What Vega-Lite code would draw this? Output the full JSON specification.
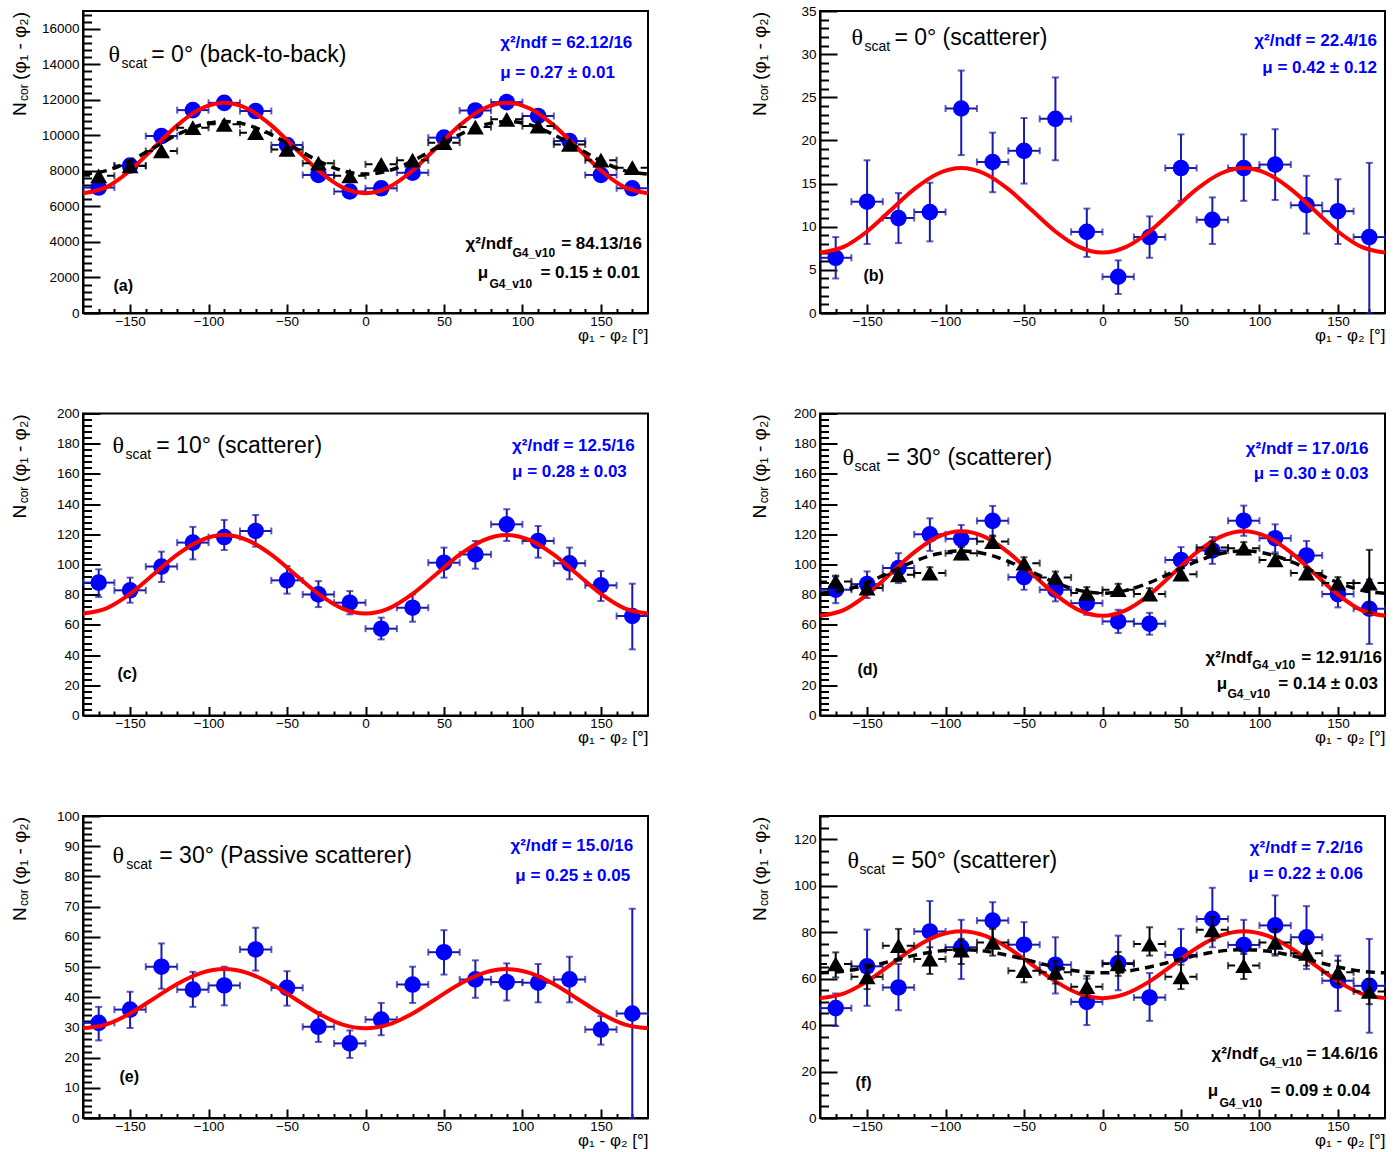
{
"$schema": "https://vega.github.io/schema/vega-lite/v6.json",
"padding": {"left": 9, "top": 3, "right": 5, "bottom": 0},
"columns": 2,
"spacing": {"row": 100.5, "column": 172},
"bounds": "flush",
"config": {
  "view": {"stroke": "#000", "strokeWidth": 2},
  "axis": {"grid": false, "domainColor": "#000", "domainWidth": 2, "tickColor": "#000", "tickWidth": 2, "labelFont": "Liberation Sans", "labelFontSize": 13.5, "labelColor": "#000", "titleFont": "Liberation Sans", "titleFontWeight": "normal", "titleColor": "#000", "labelFlush": false, "labelOverlap": false, "labelBound": false, "tickCount": 200},
  "text": {"font": "Liberation Sans", "color": "#000"}
},
"datasets": {
  "a_b": [{"x":-170,"y":7060,"lo":6950,"hi":7170,"xlo":-180,"xhi":-160},{"x":-150,"y":8300,"lo":8190,"hi":8410,"xlo":-160,"xhi":-140},{"x":-130,"y":9960,"lo":9850,"hi":10070,"xlo":-140,"xhi":-120},{"x":-110,"y":11420,"lo":11310,"hi":11530,"xlo":-120,"xhi":-100},{"x":-90,"y":11830,"lo":11720,"hi":11940,"xlo":-100,"xhi":-80},{"x":-70,"y":11370,"lo":11260,"hi":11480,"xlo":-80,"xhi":-60},{"x":-50,"y":9460,"lo":9350,"hi":9570,"xlo":-60,"xhi":-40},{"x":-30,"y":7770,"lo":7660,"hi":7880,"xlo":-40,"xhi":-20},{"x":-10,"y":6840,"lo":6730,"hi":6950,"xlo":-20,"xhi":0},{"x":10,"y":7020,"lo":6910,"hi":7130,"xlo":0,"xhi":20},{"x":30,"y":7900,"lo":7790,"hi":8010,"xlo":20,"xhi":40},{"x":50,"y":9870,"lo":9760,"hi":9980,"xlo":40,"xhi":60},{"x":70,"y":11400,"lo":11290,"hi":11510,"xlo":60,"xhi":80},{"x":90,"y":11870,"lo":11760,"hi":11980,"xlo":80,"xhi":100},{"x":110,"y":11090,"lo":10980,"hi":11200,"xlo":100,"xhi":120},{"x":130,"y":9680,"lo":9570,"hi":9790,"xlo":120,"xhi":140},{"x":150,"y":7770,"lo":7660,"hi":7880,"xlo":140,"xhi":160},{"x":170,"y":7020,"lo":6910,"hi":7130,"xlo":160,"xhi":180}],
  "a_k": [{"x":-170,"y":7720,"lo":7420,"hi":8020,"xlo":-180,"xhi":-160},{"x":-150,"y":8280,"lo":7980,"hi":8580,"xlo":-160,"xhi":-140},{"x":-130,"y":9120,"lo":8820,"hi":9420,"xlo":-140,"xhi":-120},{"x":-110,"y":10430,"lo":10130,"hi":10730,"xlo":-120,"xhi":-100},{"x":-90,"y":10620,"lo":10320,"hi":10920,"xlo":-100,"xhi":-80},{"x":-70,"y":10150,"lo":9850,"hi":10450,"xlo":-80,"xhi":-60},{"x":-50,"y":9210,"lo":8910,"hi":9510,"xlo":-60,"xhi":-40},{"x":-30,"y":8430,"lo":8130,"hi":8730,"xlo":-40,"xhi":-20},{"x":-10,"y":7720,"lo":7420,"hi":8020,"xlo":-20,"xhi":0},{"x":10,"y":8370,"lo":8070,"hi":8670,"xlo":0,"xhi":20},{"x":30,"y":8600,"lo":8300,"hi":8900,"xlo":20,"xhi":40},{"x":50,"y":9590,"lo":9290,"hi":9890,"xlo":40,"xhi":60},{"x":70,"y":10470,"lo":10170,"hi":10770,"xlo":60,"xhi":80},{"x":90,"y":10900,"lo":10600,"hi":11200,"xlo":80,"xhi":100},{"x":110,"y":10520,"lo":10220,"hi":10820,"xlo":100,"xhi":120},{"x":130,"y":9490,"lo":9190,"hi":9790,"xlo":120,"xhi":140},{"x":150,"y":8600,"lo":8300,"hi":8900,"xlo":140,"xhi":160},{"x":170,"y":8180,"lo":7880,"hi":8480,"xlo":160,"xhi":180}],
  "b_b": [{"x":-170,"y":6.4,"lo":4.0,"hi":8.8,"xlo":-180,"xhi":-160},{"x":-150,"y":12.9,"lo":8.0,"hi":17.7,"xlo":-160,"xhi":-140},{"x":-130,"y":11.0,"lo":8.1,"hi":13.9,"xlo":-140,"xhi":-120},{"x":-110,"y":11.7,"lo":8.3,"hi":15.1,"xlo":-120,"xhi":-100},{"x":-90,"y":23.7,"lo":18.3,"hi":28.1,"xlo":-100,"xhi":-80},{"x":-70,"y":17.5,"lo":14.0,"hi":20.9,"xlo":-80,"xhi":-60},{"x":-50,"y":18.8,"lo":15.0,"hi":22.6,"xlo":-60,"xhi":-40},{"x":-30,"y":22.5,"lo":17.7,"hi":27.3,"xlo":-40,"xhi":-20},{"x":-10,"y":9.4,"lo":6.5,"hi":12.1,"xlo":-20,"xhi":0},{"x":10,"y":4.2,"lo":2.2,"hi":6.1,"xlo":0,"xhi":20},{"x":30,"y":8.8,"lo":6.4,"hi":11.2,"xlo":20,"xhi":40},{"x":50,"y":16.8,"lo":13.0,"hi":20.7,"xlo":40,"xhi":60},{"x":70,"y":10.8,"lo":8.0,"hi":13.4,"xlo":60,"xhi":80},{"x":90,"y":16.8,"lo":13.0,"hi":20.7,"xlo":80,"xhi":100},{"x":110,"y":17.2,"lo":13.1,"hi":21.3,"xlo":100,"xhi":120},{"x":130,"y":12.5,"lo":9.2,"hi":15.9,"xlo":120,"xhi":140},{"x":150,"y":11.8,"lo":8.0,"hi":15.5,"xlo":140,"xhi":160},{"x":170,"y":8.8,"lo":0,"hi":17.4,"xlo":160,"xhi":180}],
  "c_b": [{"x":-170,"y":88.0,"lo":78.5,"hi":96.8,"xlo":-180,"xhi":-160},{"x":-150,"y":82.9,"lo":74.7,"hi":91.3,"xlo":-160,"xhi":-140},{"x":-130,"y":98.6,"lo":88.4,"hi":108.5,"xlo":-140,"xhi":-120},{"x":-110,"y":114.5,"lo":103.4,"hi":124.9,"xlo":-120,"xhi":-100},{"x":-90,"y":118.2,"lo":109.6,"hi":129.5,"xlo":-100,"xhi":-80},{"x":-70,"y":122.2,"lo":111.8,"hi":132.8,"xlo":-80,"xhi":-60},{"x":-50,"y":89.5,"lo":80.7,"hi":99.0,"xlo":-60,"xhi":-40},{"x":-30,"y":80.2,"lo":71.8,"hi":89.0,"xlo":-40,"xhi":-20},{"x":-10,"y":74.7,"lo":67.0,"hi":82.4,"xlo":-20,"xhi":0},{"x":10,"y":57.5,"lo":50.4,"hi":64.8,"xlo":0,"xhi":20},{"x":30,"y":71.4,"lo":62.1,"hi":80.2,"xlo":20,"xhi":40},{"x":50,"y":101.2,"lo":91.3,"hi":111.2,"xlo":40,"xhi":60},{"x":70,"y":106.7,"lo":97.2,"hi":115.6,"xlo":60,"xhi":80},{"x":90,"y":126.6,"lo":115.6,"hi":136.6,"xlo":80,"xhi":100},{"x":110,"y":115.6,"lo":104.5,"hi":125.5,"xlo":100,"xhi":120},{"x":130,"y":100.8,"lo":90.2,"hi":111.2,"xlo":120,"xhi":140},{"x":150,"y":86.2,"lo":75.8,"hi":95.7,"xlo":140,"xhi":160},{"x":170,"y":65.9,"lo":43.8,"hi":87.3,"xlo":160,"xhi":180}],
  "d_b": [{"x":-170,"y":83.3,"lo":74.4,"hi":92.0,"xlo":-180,"xhi":-160},{"x":-150,"y":87.0,"lo":77.8,"hi":95.4,"xlo":-160,"xhi":-140},{"x":-130,"y":97.6,"lo":87.7,"hi":107.5,"xlo":-140,"xhi":-120},{"x":-110,"y":120.0,"lo":109.0,"hi":130.6,"xlo":-120,"xhi":-100},{"x":-90,"y":117.0,"lo":107.5,"hi":126.2,"xlo":-100,"xhi":-80},{"x":-70,"y":128.9,"lo":118.5,"hi":138.8,"xlo":-80,"xhi":-60},{"x":-50,"y":91.6,"lo":83.3,"hi":99.8,"xlo":-60,"xhi":-40},{"x":-30,"y":83.3,"lo":75.6,"hi":91.0,"xlo":-40,"xhi":-20},{"x":-10,"y":74.4,"lo":66.7,"hi":82.2,"xlo":-20,"xhi":0},{"x":10,"y":62.3,"lo":54.6,"hi":70.0,"xlo":0,"xhi":20},{"x":30,"y":60.8,"lo":53.5,"hi":68.0,"xlo":20,"xhi":40},{"x":50,"y":103.0,"lo":94.7,"hi":111.5,"xlo":40,"xhi":60},{"x":70,"y":109.3,"lo":100.4,"hi":118.2,"xlo":60,"xhi":80},{"x":90,"y":129.0,"lo":119.0,"hi":139.0,"xlo":80,"xhi":100},{"x":110,"y":117.4,"lo":108.0,"hi":126.6,"xlo":100,"xhi":120},{"x":130,"y":106.0,"lo":95.4,"hi":115.6,"xlo":120,"xhi":140},{"x":150,"y":80.4,"lo":71.6,"hi":88.8,"xlo":140,"xhi":160},{"x":170,"y":70.7,"lo":47.4,"hi":90.0,"xlo":160,"xhi":180}],
  "d_k": [{"x":-170,"y":88.8,"lo":85.0,"hi":92.6,"xlo":-180,"xhi":-160},{"x":-150,"y":84.4,"lo":80.6,"hi":88.2,"xlo":-160,"xhi":-140},{"x":-130,"y":93.2,"lo":89.3,"hi":97.1,"xlo":-140,"xhi":-120},{"x":-110,"y":94.3,"lo":90.4,"hi":98.2,"xlo":-120,"xhi":-100},{"x":-90,"y":107.5,"lo":103.5,"hi":111.5,"xlo":-100,"xhi":-80},{"x":-70,"y":115.2,"lo":111.2,"hi":119.2,"xlo":-80,"xhi":-60},{"x":-50,"y":100.9,"lo":97.0,"hi":104.8,"xlo":-60,"xhi":-40},{"x":-30,"y":91.4,"lo":87.5,"hi":95.3,"xlo":-40,"xhi":-20},{"x":-10,"y":81.1,"lo":77.2,"hi":85.0,"xlo":-20,"xhi":0},{"x":10,"y":83.3,"lo":79.4,"hi":87.2,"xlo":0,"xhi":20},{"x":30,"y":80.4,"lo":76.5,"hi":84.3,"xlo":20,"xhi":40},{"x":50,"y":93.6,"lo":89.7,"hi":97.5,"xlo":40,"xhi":60},{"x":70,"y":111.2,"lo":107.2,"hi":115.2,"xlo":60,"xhi":80},{"x":90,"y":110.8,"lo":106.8,"hi":114.8,"xlo":80,"xhi":100},{"x":110,"y":103.0,"lo":99.1,"hi":106.9,"xlo":100,"xhi":120},{"x":130,"y":94.3,"lo":90.4,"hi":98.2,"xlo":120,"xhi":140},{"x":150,"y":87.7,"lo":83.8,"hi":91.6,"xlo":140,"xhi":160},{"x":170,"y":87.7,"lo":67.8,"hi":109.7,"xlo":160,"xhi":180}],
  "e_b": [{"x":-170,"y":31.5,"lo":25.7,"hi":36.8,"xlo":-180,"xhi":-160},{"x":-150,"y":35.9,"lo":29.8,"hi":41.8,"xlo":-160,"xhi":-140},{"x":-130,"y":50.1,"lo":42.8,"hi":57.8,"xlo":-140,"xhi":-120},{"x":-110,"y":42.5,"lo":36.8,"hi":48.4,"xlo":-120,"xhi":-100},{"x":-90,"y":43.9,"lo":37.3,"hi":50.1,"xlo":-100,"xhi":-80},{"x":-70,"y":55.8,"lo":48.8,"hi":63.0,"xlo":-80,"xhi":-60},{"x":-50,"y":43.1,"lo":37.2,"hi":48.6,"xlo":-60,"xhi":-40},{"x":-30,"y":30.2,"lo":25.2,"hi":35.1,"xlo":-40,"xhi":-20},{"x":-10,"y":24.7,"lo":19.9,"hi":29.0,"xlo":-20,"xhi":0},{"x":10,"y":32.6,"lo":27.4,"hi":38.1,"xlo":0,"xhi":20},{"x":30,"y":44.2,"lo":38.1,"hi":50.1,"xlo":20,"xhi":40},{"x":50,"y":54.9,"lo":47.5,"hi":62.2,"xlo":40,"xhi":60},{"x":70,"y":45.9,"lo":39.8,"hi":52.2,"xlo":60,"xhi":80},{"x":90,"y":45.0,"lo":38.9,"hi":51.2,"xlo":80,"xhi":100},{"x":110,"y":44.8,"lo":38.3,"hi":51.0,"xlo":100,"xhi":120},{"x":130,"y":45.9,"lo":38.3,"hi":53.4,"xlo":120,"xhi":140},{"x":150,"y":29.3,"lo":24.3,"hi":33.7,"xlo":140,"xhi":160},{"x":170,"y":34.6,"lo":0,"hi":69.3,"xlo":160,"xhi":180}],
  "f_b": [{"x":-170,"y":47.3,"lo":39.6,"hi":53.6,"xlo":-180,"xhi":-160},{"x":-150,"y":65.3,"lo":48.3,"hi":81.1,"xlo":-160,"xhi":-140},{"x":-130,"y":56.2,"lo":46.4,"hi":66.3,"xlo":-140,"xhi":-120},{"x":-110,"y":80.3,"lo":68.0,"hi":93.4,"xlo":-120,"xhi":-100},{"x":-90,"y":73.5,"lo":59.8,"hi":85.3,"xlo":-100,"xhi":-80},{"x":-70,"y":85.0,"lo":77.1,"hi":92.9,"xlo":-80,"xhi":-60},{"x":-50,"y":74.6,"lo":63.1,"hi":84.3,"xlo":-60,"xhi":-40},{"x":-30,"y":66.0,"lo":53.6,"hi":77.8,"xlo":-40,"xhi":-20},{"x":-10,"y":50.0,"lo":40.0,"hi":60.0,"xlo":-20,"xhi":0},{"x":10,"y":66.7,"lo":55.0,"hi":78.5,"xlo":0,"xhi":20},{"x":30,"y":51.9,"lo":41.8,"hi":62.4,"xlo":20,"xhi":40},{"x":50,"y":70.2,"lo":58.8,"hi":81.4,"xlo":40,"xhi":60},{"x":70,"y":85.7,"lo":73.5,"hi":99.1,"xlo":60,"xhi":80},{"x":90,"y":74.5,"lo":63.7,"hi":85.3,"xlo":80,"xhi":100},{"x":110,"y":82.9,"lo":70.6,"hi":95.8,"xlo":100,"xhi":120},{"x":130,"y":77.8,"lo":64.1,"hi":91.2,"xlo":120,"xhi":140},{"x":150,"y":59.1,"lo":46.1,"hi":69.9,"xlo":140,"xhi":160},{"x":170,"y":56.9,"lo":36.7,"hi":77.1,"xlo":160,"xhi":180}],
  "f_k": [{"x":-170,"y":66.3,"lo":60.5,"hi":71.3,"xlo":-180,"xhi":-160},{"x":-150,"y":60.8,"lo":55.5,"hi":66.0,"xlo":-160,"xhi":-140},{"x":-130,"y":74.2,"lo":67.7,"hi":81.4,"xlo":-140,"xhi":-120},{"x":-110,"y":68.4,"lo":62.0,"hi":73.5,"xlo":-120,"xhi":-100},{"x":-90,"y":72.3,"lo":66.3,"hi":77.1,"xlo":-100,"xhi":-80},{"x":-70,"y":75.6,"lo":69.9,"hi":81.4,"xlo":-80,"xhi":-60},{"x":-50,"y":63.4,"lo":58.4,"hi":68.4,"xlo":-60,"xhi":-40},{"x":-30,"y":62.7,"lo":57.9,"hi":67.7,"xlo":-40,"xhi":-20},{"x":-10,"y":56.5,"lo":51.9,"hi":61.2,"xlo":-20,"xhi":0},{"x":10,"y":66.3,"lo":61.2,"hi":71.5,"xlo":0,"xhi":20},{"x":30,"y":74.9,"lo":69.9,"hi":82.1,"xlo":20,"xhi":40},{"x":50,"y":60.8,"lo":55.5,"hi":66.0,"xlo":40,"xhi":60},{"x":70,"y":81.0,"lo":76.4,"hi":86.5,"xlo":60,"xhi":80},{"x":90,"y":65.6,"lo":59.8,"hi":70.6,"xlo":80,"xhi":100},{"x":110,"y":75.6,"lo":69.9,"hi":81.4,"xlo":100,"xhi":120},{"x":130,"y":70.9,"lo":65.6,"hi":75.6,"xlo":120,"xhi":140},{"x":150,"y":62.7,"lo":57.6,"hi":67.7,"xlo":140,"xhi":160},{"x":170,"y":54.5,"lo":49.0,"hi":59.8,"xlo":160,"xhi":180}],
  "a_r": [{"x":-180,"y":6745},{"x":-165,"y":7086},{"x":-150,"y":8018},{"x":-135,"y":9290},{"x":-120,"y":10563},{"x":-105,"y":11494},{"x":-90,"y":11835},{"x":-75,"y":11494},{"x":-60,"y":10563},{"x":-45,"y":9290},{"x":-30,"y":8018},{"x":-15,"y":7086},{"x":0,"y":6745},{"x":15,"y":7086},{"x":30,"y":8018},{"x":45,"y":9290},{"x":60,"y":10563},{"x":75,"y":11494},{"x":90,"y":11835},{"x":105,"y":11494},{"x":120,"y":10563},{"x":135,"y":9290},{"x":150,"y":8018},{"x":165,"y":7086},{"x":180,"y":6745}],
  "a_kf": [{"x":-180,"y":7820},{"x":-165,"y":8018},{"x":-150,"y":8560},{"x":-135,"y":9300},{"x":-120,"y":10040},{"x":-105,"y":10582},{"x":-90,"y":10780},{"x":-75,"y":10582},{"x":-60,"y":10040},{"x":-45,"y":9300},{"x":-30,"y":8560},{"x":-15,"y":8018},{"x":0,"y":7820},{"x":15,"y":8018},{"x":30,"y":8560},{"x":45,"y":9300},{"x":60,"y":10040},{"x":75,"y":10582},{"x":90,"y":10780},{"x":105,"y":10582},{"x":120,"y":10040},{"x":135,"y":9300},{"x":150,"y":8560},{"x":165,"y":8018},{"x":180,"y":7820}],
  "b_r": [{"x":-180,"y":7.0},{"x":-165,"y":7.66},{"x":-150,"y":9.45},{"x":-135,"y":11.9},{"x":-120,"y":14.35},{"x":-105,"y":16.14},{"x":-90,"y":16.8},{"x":-75,"y":16.14},{"x":-60,"y":14.35},{"x":-45,"y":11.9},{"x":-30,"y":9.45},{"x":-15,"y":7.66},{"x":0,"y":7.0},{"x":15,"y":7.66},{"x":30,"y":9.45},{"x":45,"y":11.9},{"x":60,"y":14.35},{"x":75,"y":16.14},{"x":90,"y":16.8},{"x":105,"y":16.14},{"x":120,"y":14.35},{"x":135,"y":11.9},{"x":150,"y":9.45},{"x":165,"y":7.66},{"x":180,"y":7.0}],
  "c_r": [{"x":-180,"y":67.5},{"x":-165,"y":71.0},{"x":-150,"y":80.5},{"x":-135,"y":93.5},{"x":-120,"y":106.5},{"x":-105,"y":116.0},{"x":-90,"y":119.5},{"x":-75,"y":116.0},{"x":-60,"y":106.5},{"x":-45,"y":93.5},{"x":-30,"y":80.5},{"x":-15,"y":71.0},{"x":0,"y":67.5},{"x":15,"y":71.0},{"x":30,"y":80.5},{"x":45,"y":93.5},{"x":60,"y":106.5},{"x":75,"y":116.0},{"x":90,"y":119.5},{"x":105,"y":116.0},{"x":120,"y":106.5},{"x":135,"y":93.5},{"x":150,"y":80.5},{"x":165,"y":71.0},{"x":180,"y":67.5}],
  "d_r": [{"x":-180,"y":66},{"x":-165,"y":69.75},{"x":-150,"y":80},{"x":-135,"y":94},{"x":-120,"y":108},{"x":-105,"y":118.25},{"x":-90,"y":122},{"x":-75,"y":118.25},{"x":-60,"y":108},{"x":-45,"y":94},{"x":-30,"y":80},{"x":-15,"y":69.75},{"x":0,"y":66},{"x":15,"y":69.75},{"x":30,"y":80},{"x":45,"y":94},{"x":60,"y":108},{"x":75,"y":118.25},{"x":90,"y":122},{"x":105,"y":118.25},{"x":120,"y":108},{"x":135,"y":94},{"x":150,"y":80},{"x":165,"y":69.75},{"x":180,"y":66}],
  "d_kf": [{"x":-180,"y":81},{"x":-165,"y":82.88},{"x":-150,"y":88},{"x":-135,"y":95},{"x":-120,"y":102},{"x":-105,"y":107.12},{"x":-90,"y":109},{"x":-75,"y":107.12},{"x":-60,"y":102},{"x":-45,"y":95},{"x":-30,"y":88},{"x":-15,"y":82.88},{"x":0,"y":81},{"x":15,"y":82.88},{"x":30,"y":88},{"x":45,"y":95},{"x":60,"y":102},{"x":75,"y":107.12},{"x":90,"y":109},{"x":105,"y":107.12},{"x":120,"y":102},{"x":135,"y":95},{"x":150,"y":88},{"x":165,"y":82.88},{"x":180,"y":81}],
  "e_r": [{"x":-180,"y":29.7},{"x":-165,"y":31.01},{"x":-150,"y":34.6},{"x":-135,"y":39.5},{"x":-120,"y":44.4},{"x":-105,"y":47.99},{"x":-90,"y":49.3},{"x":-75,"y":47.99},{"x":-60,"y":44.4},{"x":-45,"y":39.5},{"x":-30,"y":34.6},{"x":-15,"y":31.01},{"x":0,"y":29.7},{"x":15,"y":31.01},{"x":30,"y":34.6},{"x":45,"y":39.5},{"x":60,"y":44.4},{"x":75,"y":47.99},{"x":90,"y":49.3},{"x":105,"y":47.99},{"x":120,"y":44.4},{"x":135,"y":39.5},{"x":150,"y":34.6},{"x":165,"y":31.01},{"x":180,"y":29.7}],
  "f_r": [{"x":-180,"y":51.6},{"x":-165,"y":53.53},{"x":-150,"y":58.8},{"x":-135,"y":66},{"x":-120,"y":73.2},{"x":-105,"y":78.47},{"x":-90,"y":80.4},{"x":-75,"y":78.47},{"x":-60,"y":73.2},{"x":-45,"y":66},{"x":-30,"y":58.8},{"x":-15,"y":53.53},{"x":0,"y":51.6},{"x":15,"y":53.53},{"x":30,"y":58.8},{"x":45,"y":66},{"x":60,"y":73.2},{"x":75,"y":78.47},{"x":90,"y":80.4},{"x":105,"y":78.47},{"x":120,"y":73.2},{"x":135,"y":66},{"x":150,"y":58.8},{"x":165,"y":53.53},{"x":180,"y":51.6}],
  "f_kf": [{"x":-180,"y":62.5},{"x":-165,"y":63.17},{"x":-150,"y":65},{"x":-135,"y":67.5},{"x":-120,"y":70},{"x":-105,"y":71.83},{"x":-90,"y":72.5},{"x":-75,"y":71.83},{"x":-60,"y":70},{"x":-45,"y":67.5},{"x":-30,"y":65},{"x":-15,"y":63.17},{"x":0,"y":62.5},{"x":15,"y":63.17},{"x":30,"y":65},{"x":45,"y":67.5},{"x":60,"y":70},{"x":75,"y":71.83},{"x":90,"y":72.5},{"x":105,"y":71.83},{"x":120,"y":70},{"x":135,"y":67.5},{"x":150,"y":65},{"x":165,"y":63.17},{"x":180,"y":62.5}]
},
"concat": [
{
 "width": 565, "height": 302,
 "layer": [
  {"data": {"name": "a_b"}, "layer": [
    {"mark": {"type": "rule", "color": "#1a1aa8", "strokeWidth": 2},
     "encoding": {
       "x": {"field": "x", "type": "quantitative", "scale": {"domain": [-180, 180], "nice": false, "zero": false},
             "axis": {"values": [-170,-160,-150,-140,-130,-120,-110,-100,-90,-80,-70,-60,-50,-40,-30,-20,-10,0,10,20,30,40,50,60,70,80,90,100,110,120,130,140,150,160,170], "tickCount": 200, "format": "d", "labelOverlap": false, "labelFlush": false, "labelBound": false, "labelExpr": "datum.value % 50 === 0 ? datum.label : ''", "tickSize": {"condition": {"test": "datum.value % 50 === 0", "value": -9}, "value": -4.5}, "labelPadding": 10, "title": "φ₁ - φ₂ [°]", "titleAnchor": "end", "titleFontSize": 17, "titlePadding": -5}},
       "y": {"field": "lo", "type": "quantitative", "scale": {"domain": [0, 17000], "nice": false, "zero": false},
             "axis": {"values": [0,400,800,1200,1600,2000,2400,2800,3200,3600,4000,4400,4800,5200,5600,6000,6400,6800,7200,7600,8000,8400,8800,9200,9600,10000,10400,10800,11200,11600,12000,12400,12800,13200,13600,14000,14400,14800,15200,15600,16000,16400,16800], "tickCount": 200, "format": "d", "labelOverlap": false, "labelFlush": false, "labelBound": false, "labelExpr": "datum.value % 2000 === 0 ? datum.label : ''", "tickSize": {"condition": {"test": "datum.value % 2000 === 0", "value": -17}, "value": -8.5}, "labelPadding": 21, "title": null}},
       "y2": {"field": "hi"}}},
    {"mark": {"type": "rule", "color": "#1a1aa8", "strokeWidth": 2}, "encoding": {"x": {"field": "xlo", "type": "quantitative"}, "x2": {"field": "xhi"}, "y": {"field": "y", "type": "quantitative"}}},
    {"transform": [{"fold": ["xlo", "xhi"], "as": ["k", "cx"]}], "mark": {"type": "tick", "orient": "vertical", "size": 7, "thickness": 2, "color": "#1a1aa8"}, "encoding": {"x": {"field": "cx", "type": "quantitative"}, "y": {"field": "y", "type": "quantitative"}}},
    {"mark": {"type": "circle", "size": 275, "color": "#0000ff", "opacity": 1}, "encoding": {"x": {"field": "x", "type": "quantitative"}, "y": {"field": "y", "type": "quantitative"}}}
  ]},
  {"data": {"name": "a_r"}, "mark": {"type": "line", "color": "#ff0000", "strokeWidth": 4, "interpolate": "monotone"}, "encoding": {"x": {"field": "x", "type": "quantitative"}, "y": {"field": "y", "type": "quantitative"}}},
  {"data": {"name": "a_k"}, "layer": [
    {"mark": {"type": "rule", "color": "#000", "strokeWidth": 2}, "encoding": {"x": {"field": "x", "type": "quantitative"}, "y": {"field": "lo", "type": "quantitative"}, "y2": {"field": "hi"}}},
    {"mark": {"type": "rule", "color": "#000", "strokeWidth": 2, "strokeDash": [7, 5]}, "encoding": {"x": {"field": "xlo", "type": "quantitative"}, "x2": {"field": "xhi"}, "y": {"field": "y", "type": "quantitative"}}},
    {"transform": [{"fold": ["xlo", "xhi"], "as": ["k", "cx"]}], "mark": {"type": "tick", "orient": "vertical", "size": 7, "thickness": 2, "color": "#000"}, "encoding": {"x": {"field": "cx", "type": "quantitative"}, "y": {"field": "y", "type": "quantitative"}}},
    {"mark": {"type": "point", "shape": "triangle-up", "filled": true, "size": 290, "color": "#000", "opacity": 1}, "encoding": {"x": {"field": "x", "type": "quantitative"}, "y": {"field": "y", "type": "quantitative"}}}
  ]},
  {"data": {"name": "a_kf"}, "mark": {"type": "line", "color": "#000", "strokeWidth": 3.5, "strokeDash": [9, 6], "interpolate": "monotone"}, "encoding": {"x": {"field": "x", "type": "quantitative"}, "y": {"field": "y", "type": "quantitative"}}},
  {"data": {"values": [{}]}, "layer": [
    {"mark": {"type": "text", "text": "θ", "font": "Liberation Serif", "fontSize": 24, "align": "left", "baseline": "middle"}, "encoding": {"x": {"datum": -163.8}, "y": {"datum": 14527}}},
    {"mark": {"type": "text", "text": "scat", "fontSize": 14, "align": "left", "baseline": "middle"}, "encoding": {"x": {"datum": -155.5}, "y": {"datum": 14021}}},
    {"mark": {"type": "text", "text": "= 0° (back-to-back)", "fontSize": 23, "align": "left", "baseline": "middle"}, "encoding": {"x": {"datum": -136.5}, "y": {"datum": 14527}}},
    {"mark": {"type": "text", "text": "χ²/ndf = 62.12/16", "fontSize": 17, "fontWeight": "bold", "color": "#0000ff", "align": "left", "baseline": "middle"}, "encoding": {"x": {"datum": 85.8}, "y": {"datum": 15202}}},
    {"mark": {"type": "text", "text": "μ = 0.27 ± 0.01", "fontSize": 17, "fontWeight": "bold", "color": "#0000ff", "align": "left", "baseline": "middle"}, "encoding": {"x": {"datum": 85.8}, "y": {"datum": 13515}}},
    {"mark": {"type": "text", "text": "χ²/ndf", "fontSize": 17, "fontWeight": "bold", "align": "right", "baseline": "middle"}, "encoding": {"x": {"datum": 93.4}, "y": {"datum": 3897}}},
    {"mark": {"type": "text", "text": "G4_v10", "fontSize": 12, "fontWeight": "bold", "align": "right", "baseline": "middle"}, "encoding": {"x": {"datum": 120.8}, "y": {"datum": 3391}}},
    {"mark": {"type": "text", "text": "= 84.13/16", "fontSize": 17, "fontWeight": "bold", "align": "right", "baseline": "middle"}, "encoding": {"x": {"datum": 176.2}, "y": {"datum": 3897}}},
    {"mark": {"type": "text", "text": "μ", "fontSize": 17, "fontWeight": "bold", "align": "right", "baseline": "middle"}, "encoding": {"x": {"datum": 78.1}, "y": {"datum": 2240}}},
    {"mark": {"type": "text", "text": "G4_v10", "fontSize": 12, "fontWeight": "bold", "align": "right", "baseline": "middle"}, "encoding": {"x": {"datum": 106.2}, "y": {"datum": 1648}}},
    {"mark": {"type": "text", "text": "= 0.15 ± 0.01", "fontSize": 17, "fontWeight": "bold", "align": "right", "baseline": "middle"}, "encoding": {"x": {"datum": 174.9}, "y": {"datum": 2240}}},
    {"mark": {"type": "text", "text": "(a)", "fontSize": 16, "fontWeight": "bold", "align": "left", "baseline": "middle"}, "encoding": {"x": {"datum": -160.6}, "y": {"datum": 1535}}},
    {"mark": {"type": "text", "text": "N", "fontSize": 19, "angle": 270, "align": "left", "baseline": "middle"}, "encoding": {"x": {"datum": -220.4}, "y": {"datum": 11095}}},
    {"mark": {"type": "text", "text": "cor", "fontSize": 12, "angle": 270, "align": "left", "baseline": "middle"}, "encoding": {"x": {"datum": -217.9}, "y": {"datum": 11939}}},
    {"mark": {"type": "text", "text": "(φ₁ - φ₂)", "fontSize": 19, "angle": 270, "align": "left", "baseline": "middle"}, "encoding": {"x": {"datum": -220.4}, "y": {"datum": 13120}}}
  ]}
 ]
},
{
 "width": 565, "height": 302,
 "layer": [
  {"data": {"name": "b_b"}, "layer": [
    {"mark": {"type": "rule", "color": "#1a1aa8", "strokeWidth": 2},
     "encoding": {
       "x": {"field": "x", "type": "quantitative", "scale": {"domain": [-180, 180], "nice": false, "zero": false},
             "axis": {"values": [-170,-160,-150,-140,-130,-120,-110,-100,-90,-80,-70,-60,-50,-40,-30,-20,-10,0,10,20,30,40,50,60,70,80,90,100,110,120,130,140,150,160,170], "tickCount": 200, "format": "d", "labelOverlap": false, "labelFlush": false, "labelBound": false, "labelExpr": "datum.value % 50 === 0 ? datum.label : ''", "tickSize": {"condition": {"test": "datum.value % 50 === 0", "value": -9}, "value": -4.5}, "labelPadding": 10, "title": "φ₁ - φ₂ [°]", "titleAnchor": "end", "titleFontSize": 17, "titlePadding": -5}},
       "y": {"field": "lo", "type": "quantitative", "scale": {"domain": [0, 35], "nice": false, "zero": false},
             "axis": {"values": [0,1,2,3,4,5,6,7,8,9,10,11,12,13,14,15,16,17,18,19,20,21,22,23,24,25,26,27,28,29,30,31,32,33,34,35], "tickCount": 200, "format": "d", "labelOverlap": false, "labelFlush": false, "labelBound": false, "labelExpr": "datum.value % 5 === 0 ? datum.label : ''", "tickSize": {"condition": {"test": "datum.value % 5 === 0", "value": -17}, "value": -8.5}, "labelPadding": 21, "title": null}},
       "y2": {"field": "hi"}}},
    {"mark": {"type": "rule", "color": "#1a1aa8", "strokeWidth": 2}, "encoding": {"x": {"field": "xlo", "type": "quantitative"}, "x2": {"field": "xhi"}, "y": {"field": "y", "type": "quantitative"}}},
    {"transform": [{"fold": ["xlo", "xhi"], "as": ["k", "cx"]}], "mark": {"type": "tick", "orient": "vertical", "size": 7, "thickness": 2, "color": "#1a1aa8"}, "encoding": {"x": {"field": "cx", "type": "quantitative"}, "y": {"field": "y", "type": "quantitative"}}},
    {"transform": [{"fold": ["lo", "hi"], "as": ["k", "cy"]}], "mark": {"type": "tick", "orient": "horizontal", "size": 7, "thickness": 2, "color": "#1a1aa8"}, "encoding": {"x": {"field": "x", "type": "quantitative"}, "y": {"field": "cy", "type": "quantitative"}}},
    {"mark": {"type": "circle", "size": 275, "color": "#0000ff", "opacity": 1}, "encoding": {"x": {"field": "x", "type": "quantitative"}, "y": {"field": "y", "type": "quantitative"}}}
  ]},
  {"data": {"name": "b_r"}, "mark": {"type": "line", "color": "#ff0000", "strokeWidth": 4, "interpolate": "monotone"}, "encoding": {"x": {"field": "x", "type": "quantitative"}, "y": {"field": "y", "type": "quantitative"}}},
  {"data": {"values": [{}]}, "layer": [
    {"mark": {"type": "text", "text": "θ", "font": "Liberation Serif", "fontSize": 24, "align": "left", "baseline": "middle"}, "encoding": {"x": {"datum": -159.9}, "y": {"datum": 31.82}}},
    {"mark": {"type": "text", "text": "scat", "fontSize": 14, "align": "left", "baseline": "middle"}, "encoding": {"x": {"datum": -151.6}, "y": {"datum": 30.77}}},
    {"mark": {"type": "text", "text": "= 0° (scatterer)", "fontSize": 23, "align": "left", "baseline": "middle"}, "encoding": {"x": {"datum": -132.6}, "y": {"datum": 31.82}}},
    {"mark": {"type": "text", "text": "χ²/ndf = 22.4/16", "fontSize": 17, "fontWeight": "bold", "color": "#0000ff", "align": "right", "baseline": "middle"}, "encoding": {"x": {"datum": 174.9}, "y": {"datum": 31.53}}},
    {"mark": {"type": "text", "text": "μ = 0.42 ± 0.12", "fontSize": 17, "fontWeight": "bold", "color": "#0000ff", "align": "right", "baseline": "middle"}, "encoding": {"x": {"datum": 174.9}, "y": {"datum": 28.4}}},
    {"mark": {"type": "text", "text": "(b)", "fontSize": 16, "fontWeight": "bold", "align": "left", "baseline": "middle"}, "encoding": {"x": {"datum": -152.3}, "y": {"datum": 4.32}}},
    {"mark": {"type": "text", "text": "N", "fontSize": 19, "angle": 270, "align": "left", "baseline": "middle"}, "encoding": {"x": {"datum": -218.5}, "y": {"datum": 22.84}}},
    {"mark": {"type": "text", "text": "cor", "fontSize": 12, "angle": 270, "align": "left", "baseline": "middle"}, "encoding": {"x": {"datum": -216.0}, "y": {"datum": 24.58}}},
    {"mark": {"type": "text", "text": "(φ₁ - φ₂)", "fontSize": 19, "angle": 270, "align": "left", "baseline": "middle"}, "encoding": {"x": {"datum": -218.5}, "y": {"datum": 27.01}}}
  ]}
 ]
},
{
 "width": 565, "height": 302,
 "layer": [
  {"data": {"name": "c_b"}, "layer": [
    {"mark": {"type": "rule", "color": "#1a1aa8", "strokeWidth": 2},
     "encoding": {
       "x": {"field": "x", "type": "quantitative", "scale": {"domain": [-180, 180], "nice": false, "zero": false},
             "axis": {"values": [-170,-160,-150,-140,-130,-120,-110,-100,-90,-80,-70,-60,-50,-40,-30,-20,-10,0,10,20,30,40,50,60,70,80,90,100,110,120,130,140,150,160,170], "tickCount": 200, "format": "d", "labelOverlap": false, "labelFlush": false, "labelBound": false, "labelExpr": "datum.value % 50 === 0 ? datum.label : ''", "tickSize": {"condition": {"test": "datum.value % 50 === 0", "value": -9}, "value": -4.5}, "labelPadding": 10, "title": "φ₁ - φ₂ [°]", "titleAnchor": "end", "titleFontSize": 17, "titlePadding": -5}},
       "y": {"field": "lo", "type": "quantitative", "scale": {"domain": [0, 200], "nice": false, "zero": false},
             "axis": {"values": [0,4,8,12,16,20,24,28,32,36,40,44,48,52,56,60,64,68,72,76,80,84,88,92,96,100,104,108,112,116,120,124,128,132,136,140,144,148,152,156,160,164,168,172,176,180,184,188,192,196,200], "tickCount": 200, "format": "d", "labelOverlap": false, "labelFlush": false, "labelBound": false, "labelExpr": "datum.value % 20 === 0 ? datum.label : ''", "tickSize": {"condition": {"test": "datum.value % 20 === 0", "value": -17}, "value": -8.5}, "labelPadding": 21, "title": null}},
       "y2": {"field": "hi"}}},
    {"mark": {"type": "rule", "color": "#1a1aa8", "strokeWidth": 2}, "encoding": {"x": {"field": "xlo", "type": "quantitative"}, "x2": {"field": "xhi"}, "y": {"field": "y", "type": "quantitative"}}},
    {"transform": [{"fold": ["xlo", "xhi"], "as": ["k", "cx"]}], "mark": {"type": "tick", "orient": "vertical", "size": 7, "thickness": 2, "color": "#1a1aa8"}, "encoding": {"x": {"field": "cx", "type": "quantitative"}, "y": {"field": "y", "type": "quantitative"}}},
    {"transform": [{"fold": ["lo", "hi"], "as": ["k", "cy"]}], "mark": {"type": "tick", "orient": "horizontal", "size": 7, "thickness": 2, "color": "#1a1aa8"}, "encoding": {"x": {"field": "x", "type": "quantitative"}, "y": {"field": "cy", "type": "quantitative"}}},
    {"mark": {"type": "circle", "size": 275, "color": "#0000ff", "opacity": 1}, "encoding": {"x": {"field": "x", "type": "quantitative"}, "y": {"field": "y", "type": "quantitative"}}}
  ]},
  {"data": {"name": "c_r"}, "mark": {"type": "line", "color": "#ff0000", "strokeWidth": 4, "interpolate": "monotone"}, "encoding": {"x": {"field": "x", "type": "quantitative"}, "y": {"field": "y", "type": "quantitative"}}},
  {"data": {"values": [{}]}, "layer": [
    {"mark": {"type": "text", "text": "θ", "font": "Liberation Serif", "fontSize": 24, "align": "left", "baseline": "middle"}, "encoding": {"x": {"datum": -161.2}, "y": {"datum": 178.6}}},
    {"mark": {"type": "text", "text": "scat", "fontSize": 14, "align": "left", "baseline": "middle"}, "encoding": {"x": {"datum": -152.9}, "y": {"datum": 172.6}}},
    {"mark": {"type": "text", "text": "= 10° (scatterer)", "fontSize": 23, "align": "left", "baseline": "middle"}, "encoding": {"x": {"datum": -133.3}, "y": {"datum": 178.6}}},
    {"mark": {"type": "text", "text": "χ²/ndf = 12.5/16", "fontSize": 17, "fontWeight": "bold", "color": "#0000ff", "align": "left", "baseline": "middle"}, "encoding": {"x": {"datum": 93.4}, "y": {"datum": 178.6}}},
    {"mark": {"type": "text", "text": "μ = 0.28 ± 0.03", "fontSize": 17, "fontWeight": "bold", "color": "#0000ff", "align": "left", "baseline": "middle"}, "encoding": {"x": {"datum": 93.4}, "y": {"datum": 161.3}}},
    {"mark": {"type": "text", "text": "(c)", "fontSize": 16, "fontWeight": "bold", "align": "left", "baseline": "middle"}, "encoding": {"x": {"datum": -158.0}, "y": {"datum": 27.4}}},
    {"mark": {"type": "text", "text": "N", "fontSize": 19, "angle": 270, "align": "left", "baseline": "middle"}, "encoding": {"x": {"datum": -220.4}, "y": {"datum": 130.5}}},
    {"mark": {"type": "text", "text": "cor", "fontSize": 12, "angle": 270, "align": "left", "baseline": "middle"}, "encoding": {"x": {"datum": -217.9}, "y": {"datum": 140.5}}},
    {"mark": {"type": "text", "text": "(φ₁ - φ₂)", "fontSize": 19, "angle": 270, "align": "left", "baseline": "middle"}, "encoding": {"x": {"datum": -220.4}, "y": {"datum": 154.4}}}
  ]}
 ]
},
{
 "width": 565, "height": 302,
 "layer": [
  {"data": {"name": "d_b"}, "layer": [
    {"mark": {"type": "rule", "color": "#1a1aa8", "strokeWidth": 2},
     "encoding": {
       "x": {"field": "x", "type": "quantitative", "scale": {"domain": [-180, 180], "nice": false, "zero": false},
             "axis": {"values": [-170,-160,-150,-140,-130,-120,-110,-100,-90,-80,-70,-60,-50,-40,-30,-20,-10,0,10,20,30,40,50,60,70,80,90,100,110,120,130,140,150,160,170], "tickCount": 200, "format": "d", "labelOverlap": false, "labelFlush": false, "labelBound": false, "labelExpr": "datum.value % 50 === 0 ? datum.label : ''", "tickSize": {"condition": {"test": "datum.value % 50 === 0", "value": -9}, "value": -4.5}, "labelPadding": 10, "title": "φ₁ - φ₂ [°]", "titleAnchor": "end", "titleFontSize": 17, "titlePadding": -5}},
       "y": {"field": "lo", "type": "quantitative", "scale": {"domain": [0, 200], "nice": false, "zero": false},
             "axis": {"values": [0,4,8,12,16,20,24,28,32,36,40,44,48,52,56,60,64,68,72,76,80,84,88,92,96,100,104,108,112,116,120,124,128,132,136,140,144,148,152,156,160,164,168,172,176,180,184,188,192,196,200], "tickCount": 200, "format": "d", "labelOverlap": false, "labelFlush": false, "labelBound": false, "labelExpr": "datum.value % 20 === 0 ? datum.label : ''", "tickSize": {"condition": {"test": "datum.value % 20 === 0", "value": -17}, "value": -8.5}, "labelPadding": 21, "title": null}},
       "y2": {"field": "hi"}}},
    {"mark": {"type": "rule", "color": "#1a1aa8", "strokeWidth": 2}, "encoding": {"x": {"field": "xlo", "type": "quantitative"}, "x2": {"field": "xhi"}, "y": {"field": "y", "type": "quantitative"}}},
    {"transform": [{"fold": ["xlo", "xhi"], "as": ["k", "cx"]}], "mark": {"type": "tick", "orient": "vertical", "size": 7, "thickness": 2, "color": "#1a1aa8"}, "encoding": {"x": {"field": "cx", "type": "quantitative"}, "y": {"field": "y", "type": "quantitative"}}},
    {"transform": [{"fold": ["lo", "hi"], "as": ["k", "cy"]}], "mark": {"type": "tick", "orient": "horizontal", "size": 7, "thickness": 2, "color": "#1a1aa8"}, "encoding": {"x": {"field": "x", "type": "quantitative"}, "y": {"field": "cy", "type": "quantitative"}}},
    {"mark": {"type": "circle", "size": 275, "color": "#0000ff", "opacity": 1}, "encoding": {"x": {"field": "x", "type": "quantitative"}, "y": {"field": "y", "type": "quantitative"}}}
  ]},
  {"data": {"name": "d_r"}, "mark": {"type": "line", "color": "#ff0000", "strokeWidth": 4, "interpolate": "monotone"}, "encoding": {"x": {"field": "x", "type": "quantitative"}, "y": {"field": "y", "type": "quantitative"}}},
  {"data": {"name": "d_k"}, "layer": [
    {"mark": {"type": "rule", "color": "#000", "strokeWidth": 2}, "encoding": {"x": {"field": "x", "type": "quantitative"}, "y": {"field": "lo", "type": "quantitative"}, "y2": {"field": "hi"}}},
    {"mark": {"type": "rule", "color": "#000", "strokeWidth": 2, "strokeDash": [7, 5]}, "encoding": {"x": {"field": "xlo", "type": "quantitative"}, "x2": {"field": "xhi"}, "y": {"field": "y", "type": "quantitative"}}},
    {"transform": [{"fold": ["xlo", "xhi"], "as": ["k", "cx"]}], "mark": {"type": "tick", "orient": "vertical", "size": 7, "thickness": 2, "color": "#000"}, "encoding": {"x": {"field": "cx", "type": "quantitative"}, "y": {"field": "y", "type": "quantitative"}}},
    {"transform": [{"fold": ["lo", "hi"], "as": ["k", "cy"]}], "mark": {"type": "tick", "orient": "horizontal", "size": 7, "thickness": 2, "color": "#000"}, "encoding": {"x": {"field": "x", "type": "quantitative"}, "y": {"field": "cy", "type": "quantitative"}}},
    {"mark": {"type": "point", "shape": "triangle-up", "filled": true, "size": 290, "color": "#000", "opacity": 1}, "encoding": {"x": {"field": "x", "type": "quantitative"}, "y": {"field": "y", "type": "quantitative"}}}
  ]},
  {"data": {"name": "d_kf"}, "mark": {"type": "line", "color": "#000", "strokeWidth": 3.5, "strokeDash": [9, 6], "interpolate": "monotone"}, "encoding": {"x": {"field": "x", "type": "quantitative"}, "y": {"field": "y", "type": "quantitative"}}},
  {"data": {"values": [{}]}, "layer": [
    {"mark": {"type": "text", "text": "θ", "font": "Liberation Serif", "fontSize": 24, "align": "left", "baseline": "middle"}, "encoding": {"x": {"datum": -165.7}, "y": {"datum": 170.6}}},
    {"mark": {"type": "text", "text": "scat", "fontSize": 14, "align": "left", "baseline": "middle"}, "encoding": {"x": {"datum": -158.0}, "y": {"datum": 164.6}}},
    {"mark": {"type": "text", "text": "= 30° (scatterer)", "fontSize": 23, "align": "left", "baseline": "middle"}, "encoding": {"x": {"datum": -137.7}, "y": {"datum": 170.6}}},
    {"mark": {"type": "text", "text": "χ²/ndf = 17.0/16", "fontSize": 17, "fontWeight": "bold", "color": "#0000ff", "align": "right", "baseline": "middle"}, "encoding": {"x": {"datum": 169.5}, "y": {"datum": 176.6}}},
    {"mark": {"type": "text", "text": "μ = 0.30 ± 0.03", "fontSize": 17, "fontWeight": "bold", "color": "#0000ff", "align": "right", "baseline": "middle"}, "encoding": {"x": {"datum": 169.5}, "y": {"datum": 160.0}}},
    {"mark": {"type": "text", "text": "χ²/ndf", "fontSize": 17, "fontWeight": "bold", "align": "right", "baseline": "middle"}, "encoding": {"x": {"datum": 95.3}, "y": {"datum": 38.0}}},
    {"mark": {"type": "text", "text": "G4_v10", "fontSize": 12, "fontWeight": "bold", "align": "right", "baseline": "middle"}, "encoding": {"x": {"datum": 122.7}, "y": {"datum": 33.4}}},
    {"mark": {"type": "text", "text": "= 12.91/16", "fontSize": 17, "fontWeight": "bold", "align": "right", "baseline": "middle"}, "encoding": {"x": {"datum": 178.1}, "y": {"datum": 38.0}}},
    {"mark": {"type": "text", "text": "μ", "fontSize": 17, "fontWeight": "bold", "align": "right", "baseline": "middle"}, "encoding": {"x": {"datum": 79.4}, "y": {"datum": 20.8}}},
    {"mark": {"type": "text", "text": "G4_v10", "fontSize": 12, "fontWeight": "bold", "align": "right", "baseline": "middle"}, "encoding": {"x": {"datum": 106.8}, "y": {"datum": 14.1}}},
    {"mark": {"type": "text", "text": "= 0.14 ± 0.03", "fontSize": 17, "fontWeight": "bold", "align": "right", "baseline": "middle"}, "encoding": {"x": {"datum": 175.5}, "y": {"datum": 20.8}}},
    {"mark": {"type": "text", "text": "(d)", "fontSize": 16, "fontWeight": "bold", "align": "left", "baseline": "middle"}, "encoding": {"x": {"datum": -156.1}, "y": {"datum": 30.0}}},
    {"mark": {"type": "text", "text": "N", "fontSize": 19, "angle": 270, "align": "left", "baseline": "middle"}, "encoding": {"x": {"datum": -218.5}, "y": {"datum": 130.5}}},
    {"mark": {"type": "text", "text": "cor", "fontSize": 12, "angle": 270, "align": "left", "baseline": "middle"}, "encoding": {"x": {"datum": -216.0}, "y": {"datum": 140.5}}},
    {"mark": {"type": "text", "text": "(φ₁ - φ₂)", "fontSize": 19, "angle": 270, "align": "left", "baseline": "middle"}, "encoding": {"x": {"datum": -218.5}, "y": {"datum": 154.4}}}
  ]}
 ]
},
{
 "width": 565, "height": 302,
 "layer": [
  {"data": {"name": "e_b"}, "layer": [
    {"mark": {"type": "rule", "color": "#1a1aa8", "strokeWidth": 2},
     "encoding": {
       "x": {"field": "x", "type": "quantitative", "scale": {"domain": [-180, 180], "nice": false, "zero": false},
             "axis": {"values": [-170,-160,-150,-140,-130,-120,-110,-100,-90,-80,-70,-60,-50,-40,-30,-20,-10,0,10,20,30,40,50,60,70,80,90,100,110,120,130,140,150,160,170], "tickCount": 200, "format": "d", "labelOverlap": false, "labelFlush": false, "labelBound": false, "labelExpr": "datum.value % 50 === 0 ? datum.label : ''", "tickSize": {"condition": {"test": "datum.value % 50 === 0", "value": -9}, "value": -4.5}, "labelPadding": 10, "title": "φ₁ - φ₂ [°]", "titleAnchor": "end", "titleFontSize": 17, "titlePadding": -5}},
       "y": {"field": "lo", "type": "quantitative", "scale": {"domain": [0, 100], "nice": false, "zero": false},
             "axis": {"values": [0,2,4,6,8,10,12,14,16,18,20,22,24,26,28,30,32,34,36,38,40,42,44,46,48,50,52,54,56,58,60,62,64,66,68,70,72,74,76,78,80,82,84,86,88,90,92,94,96,98,100], "tickCount": 200, "format": "d", "labelOverlap": false, "labelFlush": false, "labelBound": false, "labelExpr": "datum.value % 10 === 0 ? datum.label : ''", "tickSize": {"condition": {"test": "datum.value % 10 === 0", "value": -17}, "value": -8.5}, "labelPadding": 21, "title": null}},
       "y2": {"field": "hi"}}},
    {"mark": {"type": "rule", "color": "#1a1aa8", "strokeWidth": 2}, "encoding": {"x": {"field": "xlo", "type": "quantitative"}, "x2": {"field": "xhi"}, "y": {"field": "y", "type": "quantitative"}}},
    {"transform": [{"fold": ["xlo", "xhi"], "as": ["k", "cx"]}], "mark": {"type": "tick", "orient": "vertical", "size": 7, "thickness": 2, "color": "#1a1aa8"}, "encoding": {"x": {"field": "cx", "type": "quantitative"}, "y": {"field": "y", "type": "quantitative"}}},
    {"transform": [{"fold": ["lo", "hi"], "as": ["k", "cy"]}], "mark": {"type": "tick", "orient": "horizontal", "size": 7, "thickness": 2, "color": "#1a1aa8"}, "encoding": {"x": {"field": "x", "type": "quantitative"}, "y": {"field": "cy", "type": "quantitative"}}},
    {"mark": {"type": "circle", "size": 275, "color": "#0000ff", "opacity": 1}, "encoding": {"x": {"field": "x", "type": "quantitative"}, "y": {"field": "y", "type": "quantitative"}}}
  ]},
  {"data": {"name": "e_r"}, "mark": {"type": "line", "color": "#ff0000", "strokeWidth": 4, "interpolate": "monotone"}, "encoding": {"x": {"field": "x", "type": "quantitative"}, "y": {"field": "y", "type": "quantitative"}}},
  {"data": {"values": [{}]}, "layer": [
    {"mark": {"type": "text", "text": "θ", "font": "Liberation Serif", "fontSize": 24, "align": "left", "baseline": "middle"}, "encoding": {"x": {"datum": -161.2}, "y": {"datum": 86.7}}},
    {"mark": {"type": "text", "text": "scat", "fontSize": 14, "align": "left", "baseline": "middle"}, "encoding": {"x": {"datum": -152.4}, "y": {"datum": 83.7}}},
    {"mark": {"type": "text", "text": "= 30° (Passive scatterer)", "fontSize": 23, "align": "left", "baseline": "middle"}, "encoding": {"x": {"datum": -131.4}, "y": {"datum": 86.7}}},
    {"mark": {"type": "text", "text": "χ²/ndf = 15.0/16", "fontSize": 17, "fontWeight": "bold", "color": "#0000ff", "align": "right", "baseline": "middle"}, "encoding": {"x": {"datum": 170.5}, "y": {"datum": 90.1}}},
    {"mark": {"type": "text", "text": "μ = 0.25 ± 0.05", "fontSize": 17, "fontWeight": "bold", "color": "#0000ff", "align": "right", "baseline": "middle"}, "encoding": {"x": {"datum": 168.6}, "y": {"datum": 80.1}}},
    {"mark": {"type": "text", "text": "(e)", "fontSize": 16, "fontWeight": "bold", "align": "left", "baseline": "middle"}, "encoding": {"x": {"datum": -156.8}, "y": {"datum": 13.5}}},
    {"mark": {"type": "text", "text": "N", "fontSize": 19, "angle": 270, "align": "left", "baseline": "middle"}, "encoding": {"x": {"datum": -220.4}, "y": {"datum": 65.27}}},
    {"mark": {"type": "text", "text": "cor", "fontSize": 12, "angle": 270, "align": "left", "baseline": "middle"}, "encoding": {"x": {"datum": -217.9}, "y": {"datum": 70.23}}},
    {"mark": {"type": "text", "text": "(φ₁ - φ₂)", "fontSize": 19, "angle": 270, "align": "left", "baseline": "middle"}, "encoding": {"x": {"datum": -220.4}, "y": {"datum": 77.18}}}
  ]}
 ]
},
{
 "width": 565, "height": 302,
 "layer": [
  {"data": {"name": "f_b"}, "layer": [
    {"mark": {"type": "rule", "color": "#1a1aa8", "strokeWidth": 2},
     "encoding": {
       "x": {"field": "x", "type": "quantitative", "scale": {"domain": [-180, 180], "nice": false, "zero": false},
             "axis": {"values": [-170,-160,-150,-140,-130,-120,-110,-100,-90,-80,-70,-60,-50,-40,-30,-20,-10,0,10,20,30,40,50,60,70,80,90,100,110,120,130,140,150,160,170], "tickCount": 200, "format": "d", "labelOverlap": false, "labelFlush": false, "labelBound": false, "labelExpr": "datum.value % 50 === 0 ? datum.label : ''", "tickSize": {"condition": {"test": "datum.value % 50 === 0", "value": -9}, "value": -4.5}, "labelPadding": 10, "title": "φ₁ - φ₂ [°]", "titleAnchor": "end", "titleFontSize": 17, "titlePadding": -5}},
       "y": {"field": "lo", "type": "quantitative", "scale": {"domain": [0, 130], "nice": false, "zero": false},
             "axis": {"values": [0,5,10,15,20,25,30,35,40,45,50,55,60,65,70,75,80,85,90,95,100,105,110,115,120,125,130], "tickCount": 200, "format": "d", "labelOverlap": false, "labelFlush": false, "labelBound": false, "labelExpr": "datum.value % 20 === 0 ? datum.label : ''", "tickSize": {"condition": {"test": "datum.value % 20 === 0", "value": -17}, "value": -8.5}, "labelPadding": 21, "title": null}},
       "y2": {"field": "hi"}}},
    {"mark": {"type": "rule", "color": "#1a1aa8", "strokeWidth": 2}, "encoding": {"x": {"field": "xlo", "type": "quantitative"}, "x2": {"field": "xhi"}, "y": {"field": "y", "type": "quantitative"}}},
    {"transform": [{"fold": ["xlo", "xhi"], "as": ["k", "cx"]}], "mark": {"type": "tick", "orient": "vertical", "size": 7, "thickness": 2, "color": "#1a1aa8"}, "encoding": {"x": {"field": "cx", "type": "quantitative"}, "y": {"field": "y", "type": "quantitative"}}},
    {"transform": [{"fold": ["lo", "hi"], "as": ["k", "cy"]}], "mark": {"type": "tick", "orient": "horizontal", "size": 7, "thickness": 2, "color": "#1a1aa8"}, "encoding": {"x": {"field": "x", "type": "quantitative"}, "y": {"field": "cy", "type": "quantitative"}}},
    {"mark": {"type": "circle", "size": 275, "color": "#0000ff", "opacity": 1}, "encoding": {"x": {"field": "x", "type": "quantitative"}, "y": {"field": "y", "type": "quantitative"}}}
  ]},
  {"data": {"name": "f_r"}, "mark": {"type": "line", "color": "#ff0000", "strokeWidth": 4, "interpolate": "monotone"}, "encoding": {"x": {"field": "x", "type": "quantitative"}, "y": {"field": "y", "type": "quantitative"}}},
  {"data": {"name": "f_k"}, "layer": [
    {"mark": {"type": "rule", "color": "#000", "strokeWidth": 2}, "encoding": {"x": {"field": "x", "type": "quantitative"}, "y": {"field": "lo", "type": "quantitative"}, "y2": {"field": "hi"}}},
    {"mark": {"type": "rule", "color": "#000", "strokeWidth": 2, "strokeDash": [7, 5]}, "encoding": {"x": {"field": "xlo", "type": "quantitative"}, "x2": {"field": "xhi"}, "y": {"field": "y", "type": "quantitative"}}},
    {"transform": [{"fold": ["xlo", "xhi"], "as": ["k", "cx"]}], "mark": {"type": "tick", "orient": "vertical", "size": 7, "thickness": 2, "color": "#000"}, "encoding": {"x": {"field": "cx", "type": "quantitative"}, "y": {"field": "y", "type": "quantitative"}}},
    {"transform": [{"fold": ["lo", "hi"], "as": ["k", "cy"]}], "mark": {"type": "tick", "orient": "horizontal", "size": 7, "thickness": 2, "color": "#000"}, "encoding": {"x": {"field": "x", "type": "quantitative"}, "y": {"field": "cy", "type": "quantitative"}}},
    {"mark": {"type": "point", "shape": "triangle-up", "filled": true, "size": 290, "color": "#000", "opacity": 1}, "encoding": {"x": {"field": "x", "type": "quantitative"}, "y": {"field": "y", "type": "quantitative"}}}
  ]},
  {"data": {"name": "f_kf"}, "mark": {"type": "line", "color": "#000", "strokeWidth": 3.5, "strokeDash": [9, 6], "interpolate": "monotone"}, "encoding": {"x": {"field": "x", "type": "quantitative"}, "y": {"field": "y", "type": "quantitative"}}},
  {"data": {"values": [{}]}, "layer": [
    {"mark": {"type": "text", "text": "θ", "font": "Liberation Serif", "fontSize": 24, "align": "left", "baseline": "middle"}, "encoding": {"x": {"datum": -162.5}, "y": {"datum": 110.6}}},
    {"mark": {"type": "text", "text": "scat", "fontSize": 14, "align": "left", "baseline": "middle"}, "encoding": {"x": {"datum": -154.8}, "y": {"datum": 106.7}}},
    {"mark": {"type": "text", "text": "= 50° (scatterer)", "fontSize": 23, "align": "left", "baseline": "middle"}, "encoding": {"x": {"datum": -134.5}, "y": {"datum": 110.6}}},
    {"mark": {"type": "text", "text": "χ²/ndf = 7.2/16", "fontSize": 17, "fontWeight": "bold", "color": "#0000ff", "align": "right", "baseline": "middle"}, "encoding": {"x": {"datum": 166.0}, "y": {"datum": 116.2}}},
    {"mark": {"type": "text", "text": "μ = 0.22 ± 0.06", "fontSize": 17, "fontWeight": "bold", "color": "#0000ff", "align": "right", "baseline": "middle"}, "encoding": {"x": {"datum": 166.0}, "y": {"datum": 105.0}}},
    {"mark": {"type": "text", "text": "χ²/ndf", "fontSize": 17, "fontWeight": "bold", "align": "right", "baseline": "middle"}, "encoding": {"x": {"datum": 99.1}, "y": {"datum": 27.4}}},
    {"mark": {"type": "text", "text": "G4_v10", "fontSize": 12, "fontWeight": "bold", "align": "right", "baseline": "middle"}, "encoding": {"x": {"datum": 127.2}, "y": {"datum": 24.0}}},
    {"mark": {"type": "text", "text": "= 14.6/16", "fontSize": 17, "fontWeight": "bold", "align": "right", "baseline": "middle"}, "encoding": {"x": {"datum": 175.5}, "y": {"datum": 27.4}}},
    {"mark": {"type": "text", "text": "μ", "fontSize": 17, "fontWeight": "bold", "align": "right", "baseline": "middle"}, "encoding": {"x": {"datum": 73.7}, "y": {"datum": 11.5}}},
    {"mark": {"type": "text", "text": "G4_v10", "fontSize": 12, "fontWeight": "bold", "align": "right", "baseline": "middle"}, "encoding": {"x": {"datum": 101.7}, "y": {"datum": 6.3}}},
    {"mark": {"type": "text", "text": "= 0.09 ± 0.04", "fontSize": 17, "fontWeight": "bold", "align": "right", "baseline": "middle"}, "encoding": {"x": {"datum": 170.5}, "y": {"datum": 11.5}}},
    {"mark": {"type": "text", "text": "(f)", "fontSize": 16, "fontWeight": "bold", "align": "left", "baseline": "middle"}, "encoding": {"x": {"datum": -157.4}, "y": {"datum": 15.0}}},
    {"mark": {"type": "text", "text": "N", "fontSize": 19, "angle": 270, "align": "left", "baseline": "middle"}, "encoding": {"x": {"datum": -218.5}, "y": {"datum": 84.85}}},
    {"mark": {"type": "text", "text": "cor", "fontSize": 12, "angle": 270, "align": "left", "baseline": "middle"}, "encoding": {"x": {"datum": -216.0}, "y": {"datum": 91.3}}},
    {"mark": {"type": "text", "text": "(φ₁ - φ₂)", "fontSize": 19, "angle": 270, "align": "left", "baseline": "middle"}, "encoding": {"x": {"datum": -218.5}, "y": {"datum": 100.33}}}
  ]}
 ]
}
]
}
